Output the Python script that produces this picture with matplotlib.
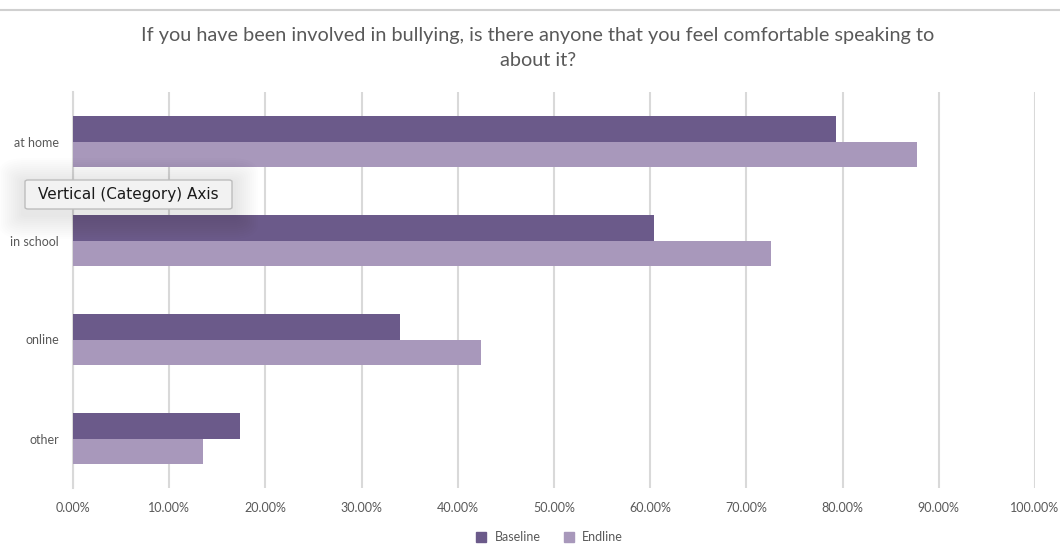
import matplotlib.pyplot as plt
import numpy as np
from matplotlib.patches import FancyBboxPatch
from matplotlib.lines import Line2D

plt.rcParams['font.family'] = ['Lato', 'DejaVu Sans']

categories = ['at home', 'in school', 'online', 'other']
baseline = [0.793, 0.604, 0.340, 0.174]
endline = [0.877, 0.726, 0.424, 0.135]
xticks = np.arange(0, 1.01, 0.1)

dark = '#6b5a8a'
light = '#a898bb'
grid = '#d9d9d9'
text_col = '#595959'

fig = plt.figure(figsize=(10.6, 5.44), dpi=100)
ax = fig.add_axes([73 / 1060, 56 / 544, 962 / 1060, 396 / 544])

y = np.arange(len(categories))
h = 0.257
ax.barh(y - h / 2, baseline, height=h, color=dark, zorder=3)
ax.barh(y + h / 2, endline, height=h, color=light, zorder=3)

ax.set_xlim(0, 1)
ax.set_ylim(len(categories) - 0.5, -0.5)
ax.set_xticks(xticks)
ax.set_xticklabels([f'{v * 100:.2f}%' for v in xticks], fontsize=9, color=text_col)
ax.set_yticks(y)
ax.set_yticklabels(categories, fontsize=9, color=text_col)
ax.tick_params(axis='x', length=0, pad=10)
ax.tick_params(axis='y', length=0, pad=10)
ax.grid(axis='x', color=grid, lw=1.5, zorder=0)
for s in ['top', 'right', 'bottom']:
    ax.spines[s].set_visible(False)
ax.spines['left'].set_color(grid)
ax.spines['left'].set_linewidth(1.5)

fig.text(538 / 1060, 1 - 48 / 544,
         'If you have been involved in bullying, is there anyone that you feel comfortable speaking to\nabout it?',
         ha='center', va='center', fontsize=14.3, color=text_col, linespacing=1.55)

# thin rule along the top edge
fig.add_artist(Line2D([0, 1], [1 - 10 / 544, 1 - 10 / 544], color='#d0d0d0', lw=1.5))

handles = [Line2D([], [], marker='s', ls='', color=dark, markersize=7),
           Line2D([], [], marker='s', ls='', color=light, markersize=7)]
fig.legend(handles, ['Baseline', 'Endline'], loc='center', bbox_to_anchor=(546 / 1060, 7 / 544),
           ncol=2, frameon=False, fontsize=9, handletextpad=0.1, columnspacing=1.2,
           labelcolor=text_col)

# hover tooltip over the category axis, with a soft glow behind it
bx0, by0, bw, bh = 25 / 1060, 1 - 209 / 544, 207 / 1060, 29 / 544
for i in range(12):
    pad_px = 26 - 2 * i
    px, py = pad_px / 1060, pad_px / 544
    fig.add_artist(FancyBboxPatch((bx0 - px, by0 - py - 4 / 544), bw + 2 * px, bh + 2 * py,
                                  boxstyle=f'round,pad=0,rounding_size={(pad_px + 2) / 1060}',
                                  transform=fig.transFigure, fc='black', ec='none',
                                  alpha=0.007, zorder=5))
fig.add_artist(FancyBboxPatch((bx0, by0), bw, bh, boxstyle='round,pad=0,rounding_size=0.003',
                              transform=fig.transFigure, fc='#f2f2f2', ec='#bdbdbd', lw=1, zorder=6))
fig.text(bx0 + bw / 2, by0 + bh / 2, 'Vertical (Category) Axis', ha='center', va='center',
         fontsize=11, color='#1a1a1a', family=['DejaVu Sans'], zorder=7)

fig.savefig('out.png', dpi=100)
